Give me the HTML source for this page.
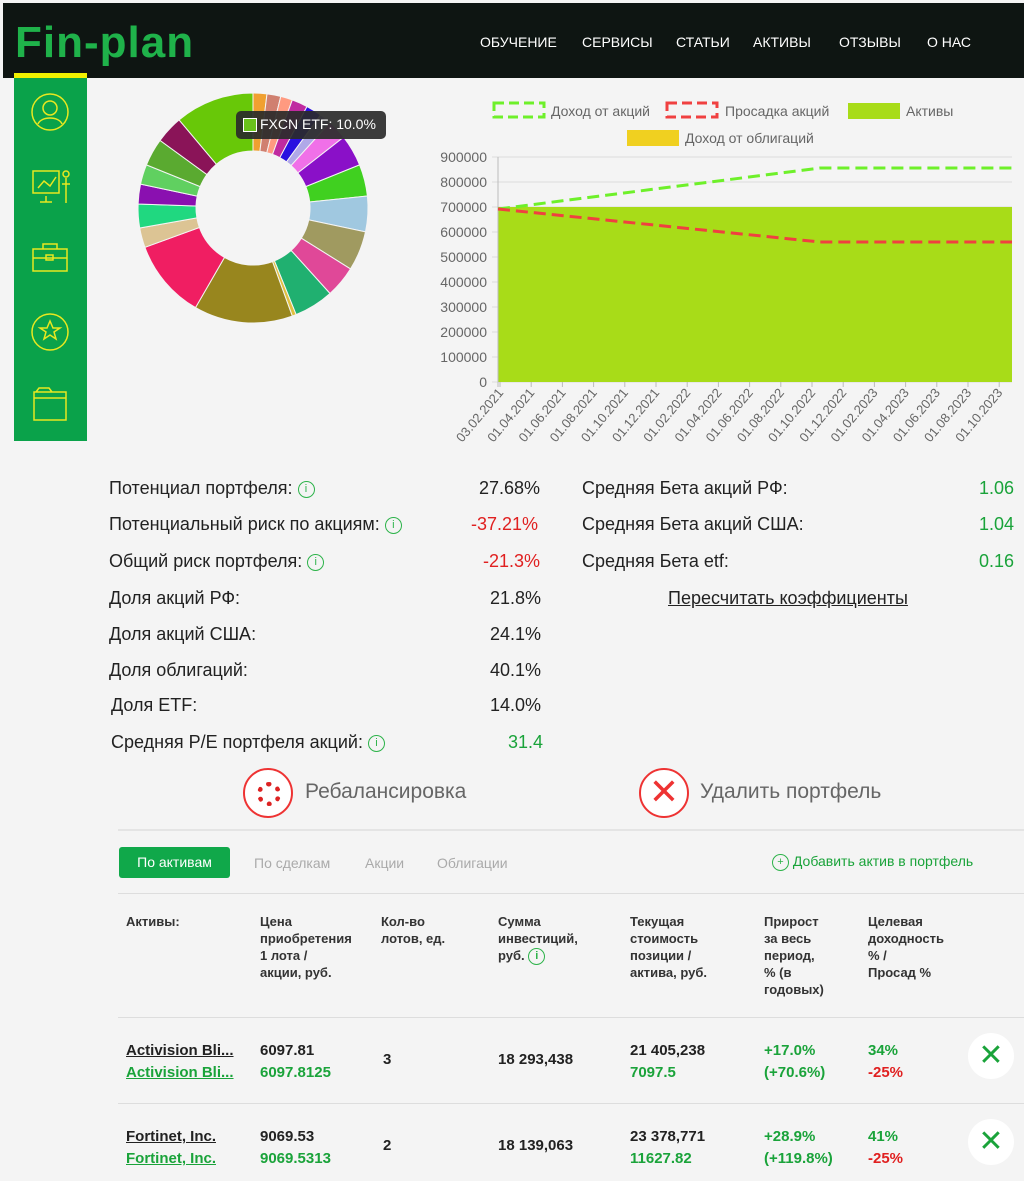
<!DOCTYPE html>
<html><head><meta charset="utf-8"><style>
body{margin:0;width:1024px;height:1181px;background:#f4f4f4;font-family:"Liberation Sans","DejaVu Sans",sans-serif;position:relative;overflow:hidden}
.a{position:absolute;white-space:nowrap}
.hdr{position:absolute;left:3px;top:3px;width:1021px;height:75px;background:#0e1512}
.nav{color:#fff;font-size:14px;top:34px}
.m{font-size:18px;color:#222}
.g{color:#1aa33a}.r{color:#e02020}
.info{display:inline-block;width:15px;height:15px;border:1.5px solid #2db34a;border-radius:50%;color:#2db34a;font-size:11px;text-align:center;line-height:15px;vertical-align:middle}
.th{font-size:13px;font-weight:bold;color:#333;line-height:17px;top:913px}
.td{font-size:15px;color:#222;font-weight:bold}
.td.g,.td .g{color:#1aa33a}.td .r{color:#e02020}
</style></head><body>
<div class="hdr"></div>
<div class="a" style="left:15px;top:18px;font-size:44px;font-weight:bold;color:#1fb24a;letter-spacing:1px">Fin-plan</div>
<div class="a nav" style="left:480px">ОБУЧЕНИЕ</div>
<div class="a nav" style="left:582px">СЕРВИСЫ</div>
<div class="a nav" style="left:676px">СТАТЬИ</div>
<div class="a nav" style="left:753px">АКТИВЫ</div>
<div class="a nav" style="left:839px">ОТЗЫВЫ</div>
<div class="a nav" style="left:927px">О НАС</div>
<div class="a" style="left:14px;top:73px;width:73px;height:5px;background:#f0f000"></div>
<div class="a" style="left:14px;top:78px;width:73px;height:363px;background:#0aa24a"></div>
<svg class="a" style="left:14px;top:78px" width="73" height="363" fill="none" stroke="#e8e820" stroke-width="1.5">
<circle cx="36" cy="34" r="18"/><circle cx="36" cy="30" r="7"/><path d="M24 46c3-8 21-8 24 0"/>
<rect x="19" y="93" width="26" height="22"/><path d="M24 110l6-7 6 5 6-9M32 118v6M26 124h12M52 100v25M48 106h8"/><circle cx="52" cy="96" r="3"/>
<rect x="19" y="171" width="34" height="22"/><path d="M29 171v-5h14v5M19 180h34"/><rect x="32" y="177" width="7" height="5"/>
<circle cx="36" cy="254" r="18"/><path d="M36 243l3 7h7l-6 4 2 7-6-4-6 4 2-7-6-4h7z"/>
<path d="M20 314h32v28H20zM20 320h32M22 314l3-4h10l3 4"/>
</svg>
<svg class="a" style="left:130px;top:85px" width="250" height="250" id="pie"></svg>
<div class="a" style="left:236px;top:111px;width:150px;height:28px;background:#2a2a2a;border-radius:5px;opacity:.92"></div>
<div class="a" style="left:243px;top:118px;width:12px;height:12px;background:#6ac21a;border:1.5px solid #fff"></div>
<div class="a" style="left:260px;top:116px;color:#fff;font-size:14px">FXCN ETF: 10.0%</div>
<svg class="a" style="left:420px;top:95px" width="604" height="370" font-family="Liberation Sans,sans-serif" font-size="14" fill="#666">
<rect x="74" y="8" width="50" height="14" fill="none" stroke="#6ef02a" stroke-width="3" stroke-dasharray="10 5"/>
<text x="131" y="21">Доход от акций</text>
<rect x="247" y="8" width="50" height="14" fill="none" stroke="#f04040" stroke-width="3" stroke-dasharray="10 5"/>
<text x="305" y="21">Просадка акций</text>
<rect x="428" y="8" width="52" height="16" fill="#a8dc18"/>
<text x="486" y="21">Активы</text>
<rect x="207" y="35" width="52" height="16" fill="#f0d020"/>
<text x="265" y="48">Доход от облигаций</text>
<g text-anchor="end" font-size="14">
<text x="67" y="67">900000</text><text x="67" y="92">800000</text><text x="67" y="117">700000</text><text x="67" y="142">600000</text><text x="67" y="167">500000</text><text x="67" y="192">400000</text><text x="67" y="217">300000</text><text x="67" y="242">200000</text><text x="67" y="267">100000</text><text x="67" y="292">0</text>
</g>
<g stroke="#ddd"><path d="M72 62H592M72 87H592M72 112H592M72 137H592M72 162H592M72 187H592M72 212H592M72 237H592M72 262H592M72 287H592"/></g>
<rect x="78" y="112" width="514" height="175" fill="#a8dc18"/>
<path d="M78 62V292" stroke="#bbb"/>
<polyline points="78,114 400,73 592,73" fill="none" stroke="#6ef02a" stroke-width="3" stroke-dasharray="12 6"/>
<polyline points="78,114 400,147 592,147" fill="none" stroke="#f04040" stroke-width="3" stroke-dasharray="12 6"/>
<g id="xl" font-size="13" text-anchor="end"></g>
</svg>
<div class="a m" style="left:109px;top:478px">Потенциал портфеля: <span class="info">i</span></div>
<div class="a m" style="left:109px;top:514px">Потенциальный риск по акциям: <span class="info">i</span></div>
<div class="a m" style="left:109px;top:551px">Общий риск портфеля: <span class="info">i</span></div>
<div class="a m" style="left:109px;top:588px">Доля акций РФ:</div>
<div class="a m" style="left:109px;top:624px">Доля акций США:</div>
<div class="a m" style="left:109px;top:660px">Доля облигаций:</div>
<div class="a m" style="left:111px;top:695px">Доля ETF:</div>
<div class="a m" style="left:111px;top:732px">Средняя Р/Е портфеля акций: <span class="info">i</span></div>
<div class="a m" style="left:479px;top:478px">27.68%</div>
<div class="a m r" style="left:471px;top:514px">-37.21%</div>
<div class="a m r" style="left:483px;top:551px">-21.3%</div>
<div class="a m" style="left:490px;top:588px">21.8%</div>
<div class="a m" style="left:490px;top:624px">24.1%</div>
<div class="a m" style="left:490px;top:660px">40.1%</div>
<div class="a m" style="left:490px;top:695px">14.0%</div>
<div class="a m g" style="left:508px;top:732px">31.4</div>
<div class="a m" style="left:582px;top:478px">Средняя Бета акций РФ:</div>
<div class="a m" style="left:582px;top:514px">Средняя Бета акций США:</div>
<div class="a m" style="left:582px;top:551px">Средняя Бета etf:</div>
<div class="a m g" style="left:979px;top:478px">1.06</div>
<div class="a m g" style="left:979px;top:514px">1.04</div>
<div class="a m g" style="left:979px;top:551px">0.16</div>
<div class="a m" style="left:668px;top:588px;text-decoration:underline">Пересчитать коэффициенты</div>
<div class="a" style="left:243px;top:768px;width:46px;height:46px;border:2px solid #e33;border-radius:50%;background:#fff"></div>
<div class="a" style="left:257px;top:782px;width:14px;height:14px;border:5px dotted #d22;border-radius:50%"></div>
<div class="a" style="left:305px;top:780px;font-size:21px;color:#666">Ребалансировка</div>
<div class="a" style="left:639px;top:768px;width:46px;height:46px;border:2px solid #e33;border-radius:50%;background:#fff;color:#e33;font-size:36px;text-align:center;line-height:44px">✕</div>
<div class="a" style="left:700px;top:780px;font-size:21px;color:#666">Удалить портфель</div>
<div class="a" style="left:118px;top:829px;width:906px;height:2px;background:#e4e4e4"></div>
<div class="a" style="left:119px;top:847px;width:111px;height:31px;background:#10a84a;border-radius:3px;color:#fff;font-size:14px;line-height:31px;text-align:center">По активам</div>
<div class="a" style="left:254px;top:855px;font-size:14px;color:#aaa">По сделкам</div>
<div class="a" style="left:365px;top:855px;font-size:14px;color:#aaa">Акции</div>
<div class="a" style="left:437px;top:855px;font-size:14px;color:#aaa">Облигации</div>
<div class="a" style="left:772px;top:853px;font-size:14px;color:#1aa33a"><span class="info" style="border-radius:50%">+</span> Добавить актив в портфель</div>
<div class="a" style="left:118px;top:893px;width:906px;height:1px;background:#ddd"></div>
<div class="a th" style="left:126px">Активы:</div>
<div class="a th" style="left:260px">Цена<br>приобретения<br>1 лота /<br>акции, руб.</div>
<div class="a th" style="left:381px">Кол-во<br>лотов, ед.</div>
<div class="a th" style="left:498px">Сумма<br>инвестиций,<br>руб. <span class="info">i</span></div>
<div class="a th" style="left:630px">Текущая<br>стоимость<br>позиции /<br>актива, руб.</div>
<div class="a th" style="left:764px">Прирост<br>за весь<br>период,<br>% (в<br>годовых)</div>
<div class="a th" style="left:868px">Целевая<br>доходность<br>% /<br>Просад %</div>
<div class="a" style="left:118px;top:1017px;width:906px;height:1px;background:#ddd"></div>
<div class="a" style="left:118px;top:1103px;width:906px;height:1px;background:#ddd"></div>
<div class="a td" style="left:126px;top:1040px;line-height:22px"><u>Activision Bli...</u><br><u class="g">Activision Bli...</u></div>
<div class="a td" style="left:260px;top:1040px;line-height:22px">6097.81<br><span class="g">6097.8125</span></div>
<div class="a td" style="left:383px;top:1051px">3</div>
<div class="a td" style="left:498px;top:1051px">18 293,438</div>
<div class="a td" style="left:630px;top:1040px;line-height:22px">21 405,238<br><span class="g">7097.5</span></div>
<div class="a td g" style="left:764px;top:1040px;line-height:22px">+17.0%<br>(+70.6%)</div>
<div class="a td" style="left:868px;top:1040px;line-height:22px"><span class="g">34%</span><br><span class="r">-25%</span></div>
<div class="a" style="left:968px;top:1033px;width:46px;height:46px;background:#fff;border-radius:50%;color:#1aa33a;font-size:30px;text-align:center;line-height:46px">✕</div>
<div class="a td" style="left:126px;top:1126px;line-height:22px"><u>Fortinet, Inc.</u><br><u class="g">Fortinet, Inc.</u></div>
<div class="a td" style="left:260px;top:1126px;line-height:22px">9069.53<br><span class="g">9069.5313</span></div>
<div class="a td" style="left:383px;top:1137px">2</div>
<div class="a td" style="left:498px;top:1137px">18 139,063</div>
<div class="a td" style="left:630px;top:1126px;line-height:22px">23 378,771<br><span class="g">11627.82</span></div>
<div class="a td g" style="left:764px;top:1126px;line-height:22px">+28.9%<br>(+119.8%)</div>
<div class="a td" style="left:868px;top:1126px;line-height:22px"><span class="g">41%</span><br><span class="r">-25%</span></div>
<div class="a" style="left:968px;top:1119px;width:46px;height:46px;background:#fff;border-radius:50%;color:#1aa33a;font-size:30px;text-align:center;line-height:46px">✕</div>
<script>
var segs=[[0,7,"#f0a030"],[7,14,"#d08070"],[14,20,"#ff9a80"],[20,28,"#c02aa0"],[28,36,"#2a10e0"],[36,42,"#b0a8e8"],[42,52,"#f070e8"],[52,68,"#8a10c8"],[68,84,"#40d020"],[84,102,"#a0c8e0"],[102,122,"#a09a60"],[122,138,"#e04898"],[138,158,"#20b070"],[158,160,"#e0c040"],[160,210,"#98861e"],[210,250,"#f01e62"],[250,260,"#dcc494"],[260,272,"#20d880"],[272,282,"#8a10b0"],[282,292,"#60d060"],[292,306,"#5aaa30"],[306,320,"#8a1458"],[320,360,"#68c808"]];
var cx=123,cy=123,R=115,r=57,s="";
function p(a,rad){a=(a-90)*Math.PI/180;return (cx+rad*Math.cos(a)).toFixed(1)+" "+(cy+rad*Math.sin(a)).toFixed(1)}
segs.forEach(function(g){var l=g[1]-g[0]>180?1:0;s+='<path d="M'+p(g[0],R)+' A'+R+' '+R+' 0 '+l+' 1 '+p(g[1],R)+' L'+p(g[1],r)+' A'+r+' '+r+' 0 '+l+' 0 '+p(g[0],r)+'Z" fill="'+g[2]+'" stroke="#f4f4f4" stroke-width="1"/>'});
document.getElementById("pie").innerHTML=s;
var d=["03.02.2021","01.04.2021","01.06.2021","01.08.2021","01.10.2021","01.12.2021","01.02.2022","01.04.2022","01.06.2022","01.08.2022","01.10.2022","01.12.2022","01.02.2023","01.04.2023","01.06.2023","01.08.2023","01.10.2023"],x="";
d.forEach(function(t,i){var xx=80+i*31.2;x+='<path d="M'+xx+' 287v5" stroke="#bbb"/><text transform="translate('+(xx+4)+',298) rotate(-50)" >'+t+'</text>'});
document.getElementById("xl").innerHTML=x;
</script>
</body></html>
